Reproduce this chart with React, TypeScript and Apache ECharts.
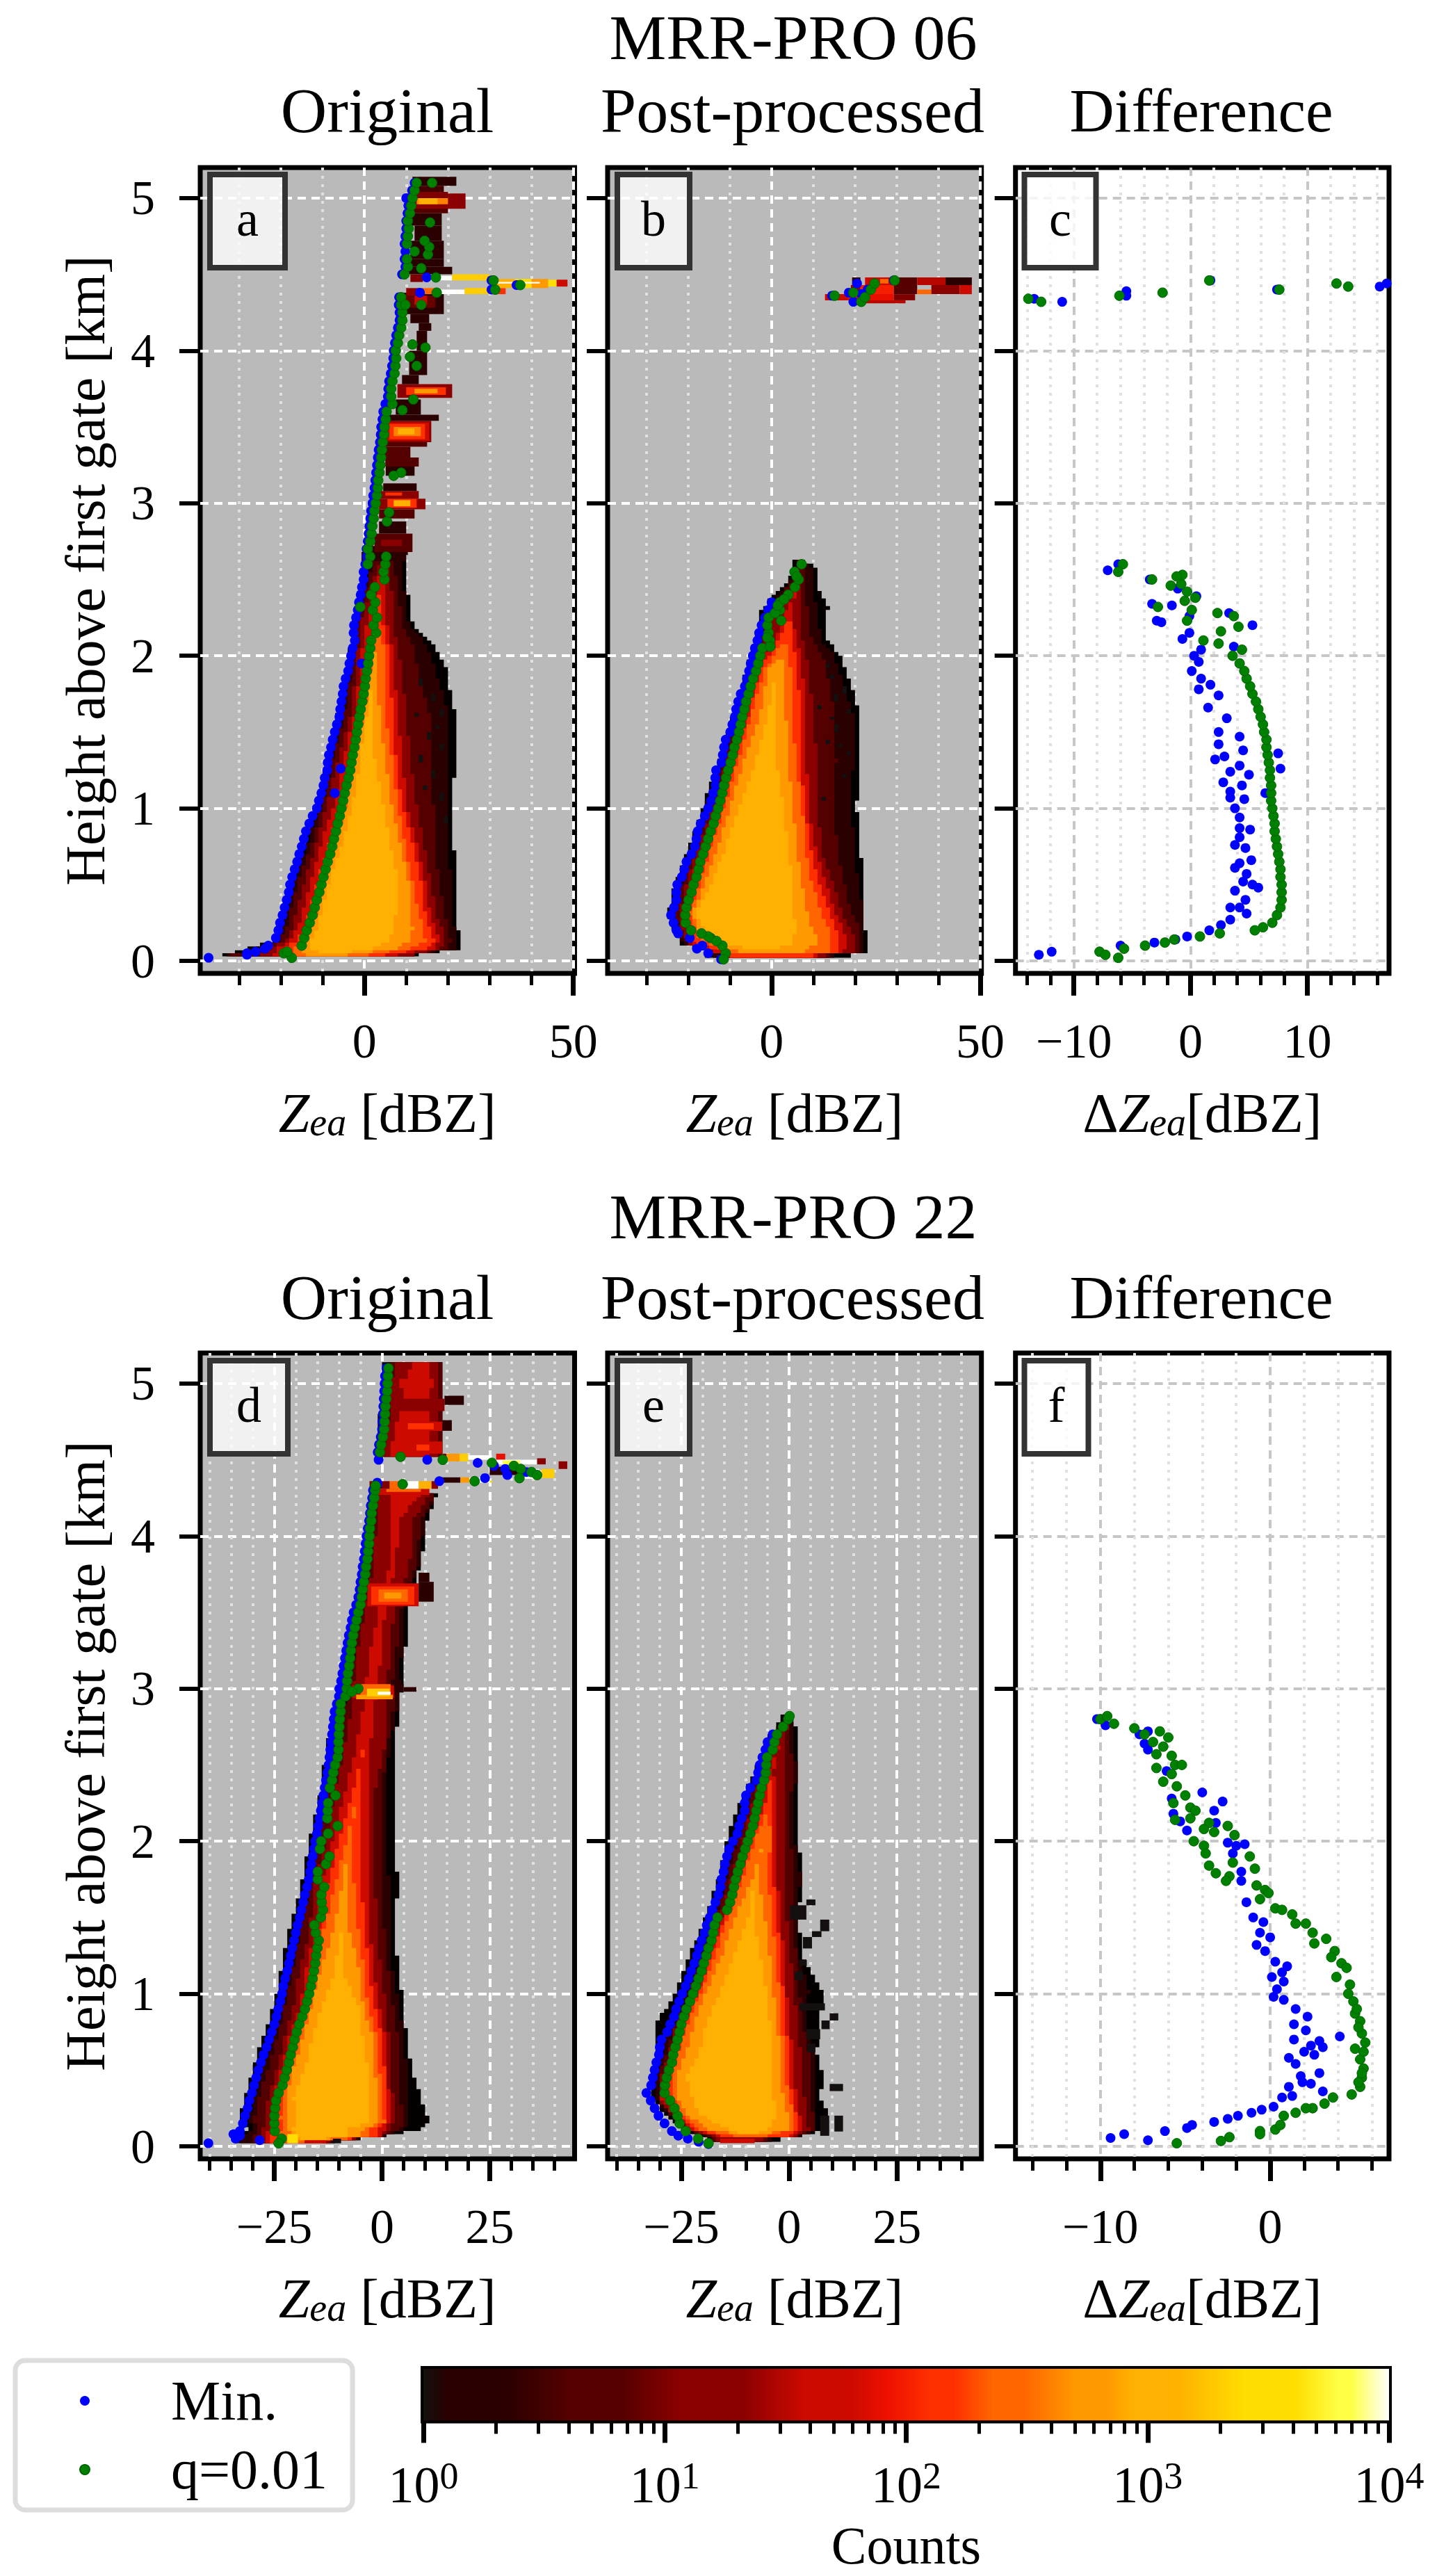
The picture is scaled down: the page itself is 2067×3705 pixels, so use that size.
import React, { useEffect, useRef } from "react";
import * as echarts from "echarts";

// ---- colour scale: [log10(count), colour]
const colorStops: [number, string][] = [
  [0, "#141010"], [0.1, "#2a0000"], [0.34, "#2a0000"], [0.6, "#550000"], [0.82, "#550000"],
  [1.06, "#8b0000"], [1.32, "#8b0000"], [1.58, "#cc0a00"], [1.77, "#cc0a00"], [1.92, "#ee1000"],
  [2.1, "#ff3000"], [2.2, "#ff3000"], [2.36, "#ff6600"], [2.49, "#ff6600"], [2.7, "#ff9900"],
  [2.83, "#ff9900"], [2.93, "#ffb000"], [3.12, "#ffb000"], [3.4, "#ffdd00"], [3.61, "#ffdd00"],
  [3.79, "#ffff44"], [3.84, "#ffff44"], [4, "#ffffff"],
];
const bandColors = ["#050000", "#2a0000", "#550000", "#8b0000", "#cc0a00", "#ff3000", "#ff6600", "#ff9900", "#ffb000"];

// ---- histogram outlines: [height, left edges per count level, right edges inner -> outer]
type Row = [number, number[], number[]];
const bodyA: Row[] = [
  [0.03, [-34.2, -33, -32, -25, -22, -20, -17, -14], [-4, 1, 5, 8, 11.5, 12, 12, 13]],
  [0.07, [-28, -26, -24.5, -23, -21, -19, -17.5, -15.5, -13], [2, 7.5, 11, 15, 16.5, 18, 20, 22, 23.2]],
  [0.12, [-22, -21, -20, -19, -18, -16.5, -15, -14, -13], [6, 11, 14.5, 16.5, 18, 19, 20.5, 22, 23.2]],
  [0.2, [-21, -19.8, -18.6, -17.5, -16, -14.5, -13.5, -12.6, -11.5], [7, 11.5, 14, 15.5, 17, 18.5, 20, 21.5, 22.2]],
  [0.3, [-20, -19, -17.8, -16.5, -15, -13.5, -12, -11.5, -10.5], [7.5, 10.5, 13, 14.5, 15.8, 17, 19, 21, 22.2]],
  [0.5, [-17.7, -17, -16, -14.5, -13, -11.5, -10.5, -10, -8.5], [8.3, 10.5, 11.6, 13.5, 14.5, 16, 18, 20.8, 22]],
  [0.7, [-15, -14.3, -13.2, -12.2, -11, -9.2, -8.2, -7.5, -6], [6.5, 9, 10, 12, 13, 14.5, 16.8, 20, 21.5]],
  [1.0, [-11.5, -11, -10, -9, -7.5, -6, -5, -4.5, -3], [4.5, 6.5, 8, 9, 10.2, 12.5, 16.5, 19.5, 21]],
  [1.3, [-9, -8.6, -7.6, -6.5, -5, -3.5, -3, -2.4, -1], [2.5, 5, 6.7, 7.6, 9, 11, 16, 20.3, 21.8]],
  [1.6, [-6.6, -5.8, -4.8, -3.5, -2.5, -1, -0.6, 0, 0.5], [1.8, 3.6, 5, 6.8, 8, 10, 15.5, 20.3, 21.8]],
  [1.9, [-4, -3.5, -3, -2, -1, 0.5, 0.9, 1.5], [3, 4.5, 6, 7, 8.8, 12.8, 16.8, 19.5]],
  [2.05, [-3.5, -3, -2.5, -1.5, -0.5, 1.2, 2, 2.8], [3.4, 4.5, 5.5, 6.5, 8, 11.5, 15, 17]],
  [2.2, [-3, -2.5, -2, -1, 0.5, 2.2], [4.3, 5.4, 6.8, 9, 10.5, 11.5]],
  [2.4, [-0.8, -0.3, 0, 1, 2.5], [4.5, 6.5, 8, 9.5, 10.4]],
  [2.62, [0.5, 1.5, 2.5, 4], [5, 7, 9, 10.5]],
];
const bodyB: Row[] = [
  [0.02, [-16.5, -14, -12, -11, -10.2, -9.9], [9.6, 10.7, 13.2, 14, 14.8, 19.3]],
  [0.05, [-16.5, -16, -15.4, -14.9, -13.8, -11.5, -9.9, -8.2], [7.9, 13.5, 15.7, 17.4, 20.1, 21.2, 21.8, 23.4]],
  [0.1, [-21.6, -21, -20.5, -20, -19, -18, -15.5, -14, -13], [5.1, 10.7, 14, 16.2, 18, 19.6, 21, 22.3, 23.4]],
  [0.15, [-22.7, -22.3, -21.8, -21, -20.5, -20, -18.5, -16, -14.5], [5.1, 10.7, 14, 15.7, 17.6, 19.6, 21.2, 22.3, 23.4]],
  [0.2, [-23.8, -23, -22.3, -21.6, -20.5, -19.3, -18.5, -17.9, -16.5], [6.2, 9.6, 13.5, 15.4, 17.3, 19, 21, 22.3, 22.3]],
  [0.3, [-24.9, -24, -23, -22, -21, -20.2, -19.6, -19, -18], [5.1, 8.5, 12, 14, 15.4, 16.8, 19, 22, 22.4]],
  [0.5, [-23.2, -22.5, -21.5, -20.5, -19.5, -18.2, -17.1, -16, -14.3], [5.1, 7.3, 9.6, 11.2, 12.9, 14.8, 17.3, 20.7, 22.4]],
  [0.7, [-20.4, -19.8, -19, -18, -17, -16, -14.9, -13.2, -11.5], [4, 6.2, 8.2, 9.6, 10.7, 12.1, 15.8, 20, 21.2]],
  [1.0, [-16.5, -16, -15.2, -14.2, -13.2, -12.1, -11.3, -9.9, -7.7], [2.9, 5.1, 7.3, 7.9, 8.7, 10.9, 15, 19, 20.4]],
  [1.3, [-12.7, -12.2, -11.5, -10.8, -9.8, -9.1, -8, -6.6, -3.8], [1.2, 4, 5.7, 7, 8.4, 10.7, 15.5, 19.6, 21.2]],
  [1.6, [-9.3, -8.8, -8.2, -7.5, -6.5, -5.4, -4.9, -2.7, -1], [0.7, 3.4, 5.1, 6.8, 8.2, 10.1, 15, 19.6, 21.2]],
  [1.9, [-6, -5.4, -4.8, -4, -3, -2.7, -1.6, -0.7], [2.9, 4.6, 6.2, 7.3, 8.7, 13, 16, 17.9]],
  [2.0, [-5.2, -4.6, -4, -3.2, -1.8, -0.4, 0.7], [4, 5.7, 6.8, 8.4, 12, 14.5, 16.2]],
  [2.1, [-3.8, -3.3, -2.6, -1.2, 0.9, 2], [4.6, 5.7, 7.3, 9.6, 11.8, 12.9]],
  [2.3, [-2.4, -1.5, -0.5, 1, 3.7], [5.1, 6.8, 8.5, 10.7, 13.5]],
  [2.45, [3, 3.5, 4, 5.6], [6.8, 8, 9.6, 10.7]],
  [2.55, [5, 5.5, 6], [8, 9.6, 10.7]],
  [2.63, [5.7], [7.3]],
];
const bodyD: Row[] = [
  [0.02, [-34, -33, -30, -28, -27, -26, -24], [-14, -13, -12.7, -12.5, -12, -11.5, -11]],
  [0.06, [-34, -33, -30, -28, -27, -26, -24, -21, -20], [-8, -5, -3, -1, -0.5, 0, 0.3, 0.5, 0.8]],
  [0.1, [-31.1, -30, -29, -28, -26.5, -25, -23.5, -22, -20.6], [-7.6, -4.4, -3.3, -1.1, 0.5, 1.6, 3.7, 5.3, 9.1]],
  [0.15, [-33.2, -31, -29.7, -27, -25, -24.1, -23.5, -21.6, -20], [-2.8, -0.6, 0.5, 1, 1.8, 2.6, 5.3, 6.4, 11]],
  [0.3, [-31.9, -30, -28.7, -26.5, -25.4, -24.9, -23.5, -22.4, -20.6], [-2.8, -1.1, -0.1, 1, 1.6, 2.6, 4.2, 5.9, 9.1]],
  [0.5, [-30, -28, -26.5, -24.3, -23.3, -22.2, -21.4, -20.6, -17.9], [-3.3, -1.7, -0.6, 0.5, 1.3, 1.8, 4.2, 5.9, 6.9]],
  [0.7, [-27.8, -26, -24.3, -22.7, -21.6, -20.8, -19.5, -18.4, -16.2], [-4.4, -2.2, -1.1, -0.1, 0.7, 1.6, 3.7, 4.8, 5.6]],
  [0.9, [-25.2, -24, -22.7, -20.6, -18.9, -18.1, -17.6, -16.5, -14.1], [-5.5, -4.4, -3.3, -1.7, -0.6, 1, 2.6, 4.2, 5.3]],
  [1.1, [-23.8, -22.4, -21, -19.5, -17.9, -16.8, -16, -14.6, -11.4], [-8.7, -4.9, -3.9, -2.8, -1.7, -0.1, 1.6, 2.6, 4]],
  [1.4, [-21.6, -20.4, -18.9, -16.8, -15.7, -14.6, -13.6, -11.4], [-7.6, -5.5, -3.9, -2.8, -1.1, 0.5, 1.6, 2.9]],
  [1.7, [-18.7, -17.5, -16.8, -15.7, -14.1, -12.7, -10.9, -9.2], [-8.2, -6.5, -4.9, -3.3, -1.7, -0.1, 1.6, 3.7]],
  [2.0, [-16.8, -16, -15.2, -13, -11.4, -9.8, -8.2], [-7.1, -4.9, -3.3, -1.7, -0.1, 1, 2.9]],
  [2.3, [-14.4, -13.7, -13, -10.9, -8.7, -6.8], [-4.9, -3.3, -1.7, -0.1, 1, 2.9]],
  [2.6, [-13, -12.2, -11.4, -8.7, -6], [-2.8, 0.5, 1.1, 1.6, 2.9]],
  [2.85, [-10.9, -9.8, -8.7, -7.1, -4.4], [-1.7, 0.5, 2.6, 3.5, 4]],
  [3.2, [-8, -7.2, -6.5, -6, -2.9], [-0.3, 1.8, 3.3, 4.5, 5.4]],
  [3.5, [-6, -5.3, -4.6, -3.9, -0.8], [0.7, 2.8, 4.3, 5.2, 5.9]],
  [3.8, [-3.9, -3.3, -2.6, -1.9, 1.8], [3.3, 6.4, 7.9, 8.5, 9]],
  [4.1, [-3.4, -2.8, -2, -1.3, 1.8], [3.8, 7.4, 9, 10, 10.5]],
  [4.28, [-2.9, -2.4, -1.8, -1.3, 1.8], [10, 11.5, 12.5, 12.8, 13]],
];
const bodyD2: Row[] = [
  [4.52, [-1.3, -0.8, -0.3, 0.2, 1.8], [11, 13, 13.6, 14, 14.1]],
  [4.8, [-0.5, 0, 0.8, 1.8, 4.3], [10.5, 13, 13.6, 14, 14.1]],
  [5.14, [0.2, 1, 2, 2.8, 6.9], [10.5, 12.6, 13.5, 14, 14.1]],
];
const bodyE: Row[] = [
  [0.03, [-18.7, -18.1, -17.6, -17], [-6.3, -4.6, -3.6, -1.9]],
  [0.06, [-21.4, -20.5, -19.5, -18.5, -17.5, -16, -13], [-4.6, -0.3, 0.8, 1.8, 2.4, 2.7, 3.2]],
  [0.1, [-24.6, -24.3, -24, -23.5, -23, -22.4, -20.8, -18.7, -14.3], [-4.6, 0.2, 1.3, 2.4, 2.9, 4.5, 6.1, 6.4, 9.1]],
  [0.2, [-28.9, -28.3, -27.8, -27.3, -26.8, -25.9, -25.1, -23.8, -20.8], [-3, -0.3, 0.8, 1.6, 2.4, 4, 5.6, 6.1, 9.1]],
  [0.3, [-32, -31, -30.5, -30.3, -29.7, -27.8, -26.7, -25.7, -22.4], [-3.6, -1.4, 0.2, 0.8, 1.8, 3.5, 5.1, 6.1, 7.2]],
  [0.45, [-32, -31, -30.5, -29.7, -28.9, -28.1, -27.3, -26.2, -24], [-3.6, -1.9, -0.9, 0, 1, 2.9, 5.1, 6.1, 8]],
  [0.6, [-30.8, -29.5, -28.5, -27.8, -27, -26.2, -25.7, -24, -20.8], [-4.1, -1.9, -0.9, 0, 0.8, 2.6, 4.5, 5.6, 6.4]],
  [0.8, [-30.8, -28, -26.5, -26.2, -24.9, -24, -23.5, -21.9, -19.2], [-4.4, -3, -1.9, -0.9, 0, 1.8, 2.9, 4, 7]],
  [1.0, [-26.2, -24.5, -23, -22.4, -21.6, -21.1, -20.5, -19.2, -16], [-5.2, -3.6, -2.2, -1.4, -0.6, 1.3, 2.4, 4.5, 7.8]],
  [1.25, [-23, -21.5, -20.5, -19.7, -18.7, -17.9, -17, -15.4, -12.7], [-6.8, -4.6, -3.3, -2.2, -1.4, 0.2, 1.6, 2.1, 2.9]],
  [1.5, [-19.2, -18, -17, -16, -15.2, -14.6, -14.1, -12.5, -9.5], [-8.4, -5.7, -3.8, -2.8, -1.7, -0.6, 0.8, 1.8, 2.1]],
  [1.75, [-16.5, -15.5, -14.5, -13.5, -12.2, -11.4, -10.6, -8.4], [-7.3, -5.2, -3.8, -3, -0.9, 1.3, 2.7, 3.2]],
  [2.0, [-14.3, -13, -12, -10.6, -9.8, -9, -7.9], [-4.1, -3.6, -2.8, -1.4, 0.2, 1.3, 2.1]],
  [2.2, [-12.2, -11, -10, -9, -7.9, -5.7], [-4.4, -3, -1.1, 0.2, 1.3, 2.1]],
  [2.45, [-7.9, -7.2, -6.5, -6.2, -4.6], [-3.6, -0.9, 0.8, 1.6, 2.1]],
  [2.65, [-5.2, -4.5, -3.8, -3], [-0.9, 0.2, 1.3, 2.1]],
  [2.83, [-0.9], [1]],
];

// ---- separate histogram blocks: [h0, h1, x0, x1, log10(count)]
type Patch = [number, number, number, number, number];
const patchesA: Patch[] = [
  [2.62, 2.68, -0.7, 10, 0.3], [2.66, 2.72, 1.4, 10.4, 0.3], [2.68, 2.8, 2.4, 11.5, 0.8], [2.72, 2.76, 4, 9, 1.2], [2.8, 2.88, 3.5, 10, 0.2],
  [2.9, 2.96, 3.5, 12, 0.6], [2.96, 3.03, 3.5, 14.6, 1.2], [2.97, 3.03, 5.5, 12.5, 2.2], [2.98, 3.02, 7, 11, 3], [3.03, 3.08, 3, 13, 1.2], [3.05, 3.07, 5, 9, 2.2], [3.08, 3.13, 4.5, 12.5, 0.2],
  [3.18, 3.24, 5.1, 12, 0.2], [3.24, 3.3, 5, 13, 0.7], [3.3, 3.37, 4.8, 11, 0.7], [3.37, 3.42, 5, 15, 0.7],
  [3.4, 3.54, 4.5, 16, 1.2], [3.41, 3.53, 5.5, 15.5, 1.7], [3.42, 3.52, 6, 14.5, 2.2], [3.44, 3.5, 7, 13.5, 2.6], [3.45, 3.49, 8, 12, 3],
  [3.54, 3.58, 5, 17.8, 0.1], [3.58, 3.68, 7.5, 13.5, 0.3],
  [3.69, 3.78, 7.9, 21, 1.2], [3.71, 3.76, 10, 19.5, 2.2], [3.72, 3.75, 12, 17.5, 2.7], [3.78, 3.84, 9, 13, 0.2],
  [3.84, 4, 10.7, 15, 0.1], [4, 4.13, 12.5, 15, 0.1], [4.13, 4.18, 13, 16, 0.1], [4.18, 4.24, 11, 15.5, 0.1],
  [4.24, 4.38, 7.7, 19, 0.2], [4.28, 4.36, 9, 17, 0.9], [4.3, 4.36, 12, 15, 1.7],
  [4.36, 4.41, 10, 13.5, 1.2], [4.37, 4.41, 13, 17, 2.4], [4.37, 4.4, 17, 24, 4], [4.37, 4.41, 24, 30, 3.3], [4.37, 4.41, 30, 33.8, 2.1],
  [4.45, 4.5, 11, 14, 1], [4.46, 4.49, 14, 21, 4], [4.46, 4.5, 21, 30, 3.3],
  [4.41, 4.47, 30, 36, 3], [4.41, 4.47, 36, 40, 3.4], [4.41, 4.47, 40, 44, 2.8], [4.42, 4.465, 44, 46, 3.5], [4.42, 4.465, 46, 48.6, 1.6], [4.44, 4.45, 30, 42, 4],
  [4.5, 4.55, 9.7, 21, 0.3], [4.55, 4.6, 10, 19, 0.1], [4.6, 4.72, 11, 19, 0.15], [4.72, 4.82, 12, 18.5, 0.1], [4.82, 4.9, 11, 18.5, 0.1], [4.9, 4.95, 10, 20, 0.8],
  [4.93, 5.03, 10, 24.2, 1.2], [4.96, 5.01, 12.5, 20, 2.6], [4.96, 5, 13, 17.5, 3.05], [5, 5.04, 12, 20, 1], [5.04, 5.08, 11.5, 19, 0.5], [5.08, 5.14, 11.5, 22, 0.1],
  [1.8, 1.85, 13, 14, 0], [1.6, 1.625, 12, 13, 0], [1.45, 1.5, 15, 16, 0], [1.3, 1.35, 13, 14, 0], [1.2, 1.25, 16, 17, 0], [1.05, 1.1, 18, 19, 0], [1.7, 1.75, 16, 17, 0], [0.9, 0.95, 19, 20, 0],
  [1.52, 1.545, 17, 18, 0], [1.38, 1.425, 18, 19, 0], [1.12, 1.15, 14, 15, 0], [1.6, 1.65, 18, 19, 0],
];
const patchesB: Patch[] = [
  [4.43, 4.48, 19.3, 21.3, 0.1], [4.43, 4.48, 22.4, 29.3, 1.7], [4.44, 4.47, 26, 28, 2.4], [4.43, 4.48, 29.3, 34.9, 0.7], [4.43, 4.48, 34.9, 41.7, 1.5], [4.43, 4.48, 41.7, 48, 0.3],
  [4.37, 4.43, 19, 21.3, 1.2], [4.37, 4.43, 21.3, 29.3, 2], [4.37, 4.43, 29.3, 34.9, 0.8], [4.37, 4.4, 34.9, 38.3, 2.5], [4.37, 4.43, 38.3, 45.1, 1.2], [4.37, 4.43, 45.1, 48, 1.7],
  [4.33, 4.37, 12.8, 18.5, 1.7], [4.33, 4.37, 18.5, 29.3, 1.9], [4.33, 4.37, 29.3, 34.4, 1], [4.31, 4.33, 18.5, 32.1, 1.5],
  [1.92, 1.95, 13, 14, 0], [1.85, 1.875, 14, 15, 0], [1.7, 1.75, 15, 16, 0], [1.65, 1.675, 11, 12, 0], [1.58, 1.6, 14, 15, 0], [1.5, 1.55, 15, 16, 0], [1.42, 1.45, 13, 14, 0], [1.4, 1.425, 16, 17, 0], [1.05, 1.075, 12, 13, 0],
  [1.75, 1.8, 17, 18, 0], [1.62, 1.65, 18, 19, 0], [1.35, 1.375, 18, 19, 0], [1.2, 1.225, 17, 18, 0],
];
const patchesD: Patch[] = [
  [3.54, 3.69, -3.4, 8.5, 1.7], [3.55, 3.67, -2.5, 7.5, 2.15], [3.57, 3.65, -0.8, 6, 2.45], [3.59, 3.63, 0.5, 4.5, 2.75], [3.57, 3.7, 8.5, 12, 0.1], [3.7, 3.76, 8.5, 11, 0.1],
  [2.94, 3.02, -7, 2.8, 1.7], [2.93, 3.03, -5, 2, 2.45], [2.93, 2.96, -6, 2.5, 2.7], [2.95, 3, -3.5, 1.8, 3.3], [2.96, 2.98, -1, 2, 4], [2.98, 3.03, 2.8, 5, 0.1], [2.98, 3.01, 5, 8, 0.2], [3.03, 3.06, 2, 4.5, 0.1],
  [4.27, 4.31, -2.5, 11, 1.6], [4.29, 4.31, 1, 9, 2.4],
  [4.31, 4.36, -2.9, 1.8, 1], [4.31, 4.36, 1.8, 5, 2.4], [4.31, 4.36, 5, 8.5, 4], [4.31, 4.36, 8.5, 11.5, 3.1], [4.31, 4.36, 11.5, 13, 1.2],
  [4.35, 4.385, 13.6, 18.2, 0.1], [4.35, 4.385, 18.2, 20.3, 2.7], [4.35, 4.385, 20.3, 25, 4], [4.35, 4.365, 25, 25.5, 3.4],
  [4.49, 4.54, 14.1, 15, 1], [4.49, 4.54, 15, 18, 2.7], [4.49, 4.54, 18, 20, 3.3], [4.5, 4.53, 20, 25.5, 4], [4.5, 4.54, 26.5, 28.6, 1.9],
  [4.47, 4.5, 25.5, 36, 4], [4.47, 4.51, 36, 38, 1.3], [4.44, 4.49, 41, 43, 1.2], [4.47, 4.495, 28, 32, 3.8],
  [4.4, 4.455, 25, 32, 0.1], [4.39, 4.43, 32, 37, 4], [4.38, 4.44, 37, 40, 3.3], [4.375, 4.44, 33, 36.5, 4],
  [4.69, 4.75, 3, 14, 1.75], [4.7, 4.74, 6, 12, 2.15], [4.69, 4.76, 14, 16.2, 0.1],
  [4.54, 4.62, 2, 14, 1.6], [4.56, 4.6, 8, 11, 2.15], [4.82, 4.9, 2, 14.5, 1.3], [4.86, 4.92, 14.5, 19, 0.1], [4.97, 5.03, 4, 12, 1.6],
  [0.02, 0.08, -22, -19.5, 3.5], [0.02, 0.05, -11.4, -9.5, 0], [0.02, 0.04, -18, -13, 1.7],
];
const patchesE: Patch[] = [
  [0.02, 0.05, -16, -8, 1.7],
  [1.58, 1.618, 4, 6.1, 0], [1.486, 1.58, 0.2, 4, 0], [1.41, 1.486, 7.2, 9.3, 0], [1.372, 1.41, 5.3, 7.5, 0], [1.297, 1.372, 3.2, 5.3, 0],
  [1.183, 1.221, 2.4, 4.1, 0], [1.089, 1.146, 1.3, 3.2, 0], [0.891, 0.938, 2.4, 8.3, 0], [0.825, 0.872, 9.4, 11.4, 0], [0.768, 0.825, 7.5, 9.4, 0],
  [0.702, 0.768, 4, 7.2, 0], [0.617, 0.673, 4.2, 6.1, 0], [0.362, 0.409, 9.4, 12.5, 0], [0.097, 0.201, 10.5, 12.5, 0], [0.069, 0.201, 7.2, 9.3, 0],
];

// ---- scatter points. Lists indexed by gate: 0.05 km, 0.10 km, ...
const gateStep = 0.05;
const aQ = [-19.3, -15, -14.4, -13.8, -13.1, -12.4, -11.9, -11.4, -10.8, -10.3, -9.8, -9.3, -8.8, -8.2, -7.7, -7.3, -6.8, -6.4, -5.9, -5.5, -5.1, -4.7, -4.3, -3.8, -3.4, -3.1, -2.8, -2.4, -2.1, -1.8, -1.5, -1.2, -0.9, -0.5, -0.2, 0.1, 0.3, 0.6, 0.9, 1.1, 1.4, 1.6, 2.8, 2.2, 3, 2, 2.6, 1.6, 2.5, 4.8, 4.6, 5, 1.4, 0.8, 1.4, 1.7, 1.9, 2.2, 2.4, 2.7, 3, 3.2, 3.3, 3.6, 3.8, 4, 4.2, 4.4, 4.7, 4.8, 5.1, 5.3, 6.7, 6.4, 6.4, 6.7, 7.2, 7.4, 7.6, 7.5, 8, 8.3, 8.8, 9.1, 9.1, 8.8, 8.8, null, null, 9.6, 10.4, 10.2, 12, 10.2, 10.4, 10.6, 10.4, 10.9, 11.2, 11.5, 12, 12.5];
const aQExtra = [[5.4, 2.88], [5.9, 2.94], [8.8, 3.2], [7, 3.18], [9.1, 3.61], [11.7, 3.68], [12.5, 3.9], [10.9, 3.96], [11.5, 4.04], [14.6, 4.02], [9.8, 4.3], [13.6, 4.3], [17.3, 4.38], [31.3, 4.4], [30.9, 4.46], [37.3, 4.43], [17.1, 4.48], [13.6, 4.54], [15.2, 4.63], [15.5, 4.68], [14.4, 4.72], [15.7, 4.84], [16.2, 5.1], [-17.4, 0.02], [-18.5, 0.06], [5.2, 2.65], [-1, 2.32], [0.8, 2.6]];
const aMin = [-28.1, -23, -21.2, -20.6, -20.2, -19.6, -19.1, -18.6, -18.1, -17.8, -17.3, -16.7, -16.1, -15.6, -15, -14.5, -14, -13.2, -12.4, -11.4, -10.9, -10.3, -9.8, -9.5, -8.9, -8.8, -8.5, -8, -7.6, -7.1, -6.6, -6, -5.8, -5.5, -5.2, -5, -4.5, -3.9, -3.6, -3.2, -2.8, -2.3, -2.6, -2.5, -2, -1.6, -1.3, -0.9, -0.6, -0.2, -0.2, 0.2, 0.6, 0.5, 0.8, 1, 1.2, 1.4, 1.6, 1.9, 2.1, 2.4, 2.6, 2.8, 3, 3.2, 3.4, 3.7, 3.9, 4, 4.3, 4.5, 5, 5.6, 5.7, 5.9, 6.3, 6.6, 6.9, 7, 7.3, 7.6, 8, 8.4, 8.4, 8.2, 8.3, null, null, 9, 9.8, 9.6, 9.8, 9.6, 9.8, 10, 10, 10.3, 10.5, 10, 11.4, 12];
const aMinExtra = [[-37.3, 0.02], [-26, 0.06], [-28.1, 0.04], [-23.8, 0.08], [-7.1, 1.1], [-5.7, 1.26], [-0.7, 1.95], [14.9, 4.48], [13.3, 4.38], [30.4, 4.46], [30.4, 4.4], [36.4, 4.43]];
const bQ = [-11, -11.8, -14.6, -19.3, -20.6, -20.7, -20.4, -19.9, -19.2, -18.7, -18, -17.5, -17.1, -16.4, -15.8, -15.2, -14.6, -13.9, -13.4, -12.8, -12.3, -11.8, -11.4, -10.9, -10.4, -9.8, -9.3, -8.9, -8.3, -7.8, -7.4, -7, -6.5, -6.1, -5.5, -5, -4.4, -3.7, -3.2, -2.7, -2.2, -0.4, -0.7, -1, -0.7, 2, 2, 4, 5.6, 6.5, 5.5, 7.2];
const bQExtra = [[-11.5, 0.01], [-13.2, 0.13], [-15.2, 0.16], [-16.8, 0.18], [-0.3, 2.06], [2.3, 2.23], [0.8, 2.28], [6, 2.52], [1.5, 2.33], [3, 2.37], [-1, 2.12], [15.1, 4.36], [19.6, 4.38], [21.5, 4.32], [22.4, 4.35], [23.8, 4.4], [24.7, 4.44], [29.5, 4.46]];
const bMin = [-15.2, -16.6, -19.6, -22.8, -23.5, -24.1, -23.4, -22.8, -22.8, -22.6, -21.5, -20.9, -20.4, -19.2, -18.4, -18, -17.7, -17, -16, -15.2, -14.5, -14, -13.4, -13.5, -13.3, -12, -11.7, -11.4, -11, -9.9, -9.4, -8.8, -8.5, -8, -7.4, -6.4, -5.9, -5.4, -5, -4.5, -4, -3.4, -3, -2.4, -1.6, -0.8, 0];
const bMinExtra = [[-12.1, 0.01], [-17.9, 0.08], [-22.4, 0.18], [14.5, 4.36], [18.5, 4.38], [19.6, 4.32], [20.5, 4.44], [21.5, 4.37], [23, 4.4], [29.3, 4.46]];
const cQ = [[-7.8, 0.06], [-7.3, 0.04], [-6.2, 0.02], [-5.7, 0.08], [-3.9, 0.1], [-2.2, 0.12], [-1.4, 0.14], [0.8, 0.16], [2.5, 0.18], [5.5, 0.2], [6.2, 0.22], [7, 0.25], [7.4, 0.3], [7.7, 0.35], [7.8, 0.4], [7.8, 0.45], [7.8, 0.5], [7.7, 0.55], [7.7, 0.6], [7.6, 0.65], [7.5, 0.7], [7.4, 0.75], [7.3, 0.8], [7.2, 0.85], [7.2, 0.9], [7.1, 0.95], [7, 1], [6.9, 1.05], [6.9, 1.1], [6.9, 1.15], [6.8, 1.2], [6.8, 1.25], [6.7, 1.3], [6.6, 1.35], [6.5, 1.4], [6.5, 1.45], [6.3, 1.5], [6.2, 1.55], [6, 1.6], [5.8, 1.65], [5.6, 1.7], [5.3, 1.75], [5.1, 1.8], [4.8, 1.85], [4.6, 1.9], [4.2, 1.95], [3.6, 2], [4.4, 2.04], [2.4, 2.08], [2.6, 2.16], [1.1, 2.1], [4.1, 2.19], [3.7, 2.26], [2.3, 2.28], [-0.3, 2.23], [0.1, 2.3], [-0.5, 2.36], [-2.8, 2.32], [0.4, 2.38], [-0.3, 2.42], [-0.8, 2.47], [-1.7, 2.46], [-0.7, 2.53], [-1.2, 2.52], [-3.3, 2.5], [-5.8, 2.6], [-6.2, 2.55], [-13.9, 4.34], [-12.8, 4.32], [-6.1, 4.36], [-2.4, 4.38], [1.6, 4.46], [7.6, 4.4], [12.5, 4.44], [13.5, 4.42]];
const cMin = [[-13, 0.04], [-11.9, 0.06], [-6, 0.1], [-1.3, 0.14], [-3.1, 0.12], [-0.3, 0.16], [1.6, 0.2], [2.6, 0.235], [3.4, 0.27], [3.4, 0.35], [4.8, 0.31], [4.2, 0.35], [4.7, 0.4], [3.8, 0.46], [5.8, 0.48], [5.3, 0.5], [4.5, 0.52], [4.8, 0.57], [3.8, 0.61], [5.2, 0.66], [4.2, 0.64], [4.7, 0.74], [3.8, 0.76], [4.2, 0.81], [5.1, 0.86], [4.2, 0.87], [4.2, 0.94], [3.8, 1], [4.6, 1.06], [3.4, 1.07], [4.4, 1.15], [3.4, 1.11], [6.4, 1.1], [2.8, 1.17], [5, 1.22], [3.4, 1.24], [4.2, 1.28], [2.1, 1.32], [2.9, 1.34], [7.7, 1.26], [7.5, 1.36], [4.5, 1.38], [2.4, 1.42], [4.2, 1.47], [2.4, 1.5], [3.1, 1.59], [1.5, 1.66], [2.4, 1.74], [0.7, 1.78], [1.7, 1.81], [0.9, 1.85], [0.1, 1.9], [0.7, 1.96], [0.3, 2], [0.9, 2.04], [-0.7, 2.11], [-0.1, 2.15], [-2.9, 2.23], [-2.5, 2.22], [-3.3, 2.34], [-1.6, 2.33], [3.3, 2.28], [5.3, 2.2], [3.7, 2.06], [-3.5, 2.5], [-1.1, 2.44], [0.5, 2.39], [-0.1, 2.26], [-7.1, 2.56], [-6.2, 2.6], [-13.4, 4.34], [-11, 4.32], [-5.5, 4.39], [-5.5, 4.36], [1.7, 4.46], [7.4, 4.4], [16.2, 4.42], [16.8, 4.44]];
const dQ = [-23.3, -24.9, -25, -25, -24.8, -24.6, -24, -23.1, -22.6, -22.1, -21.6, -21.2, -20.7, -20.3, -19.8, -19.2, -18.5, -17.9, -17.4, -16.9, -16.5, -16.1, -15.8, -15.5, -15.3, -15, -14.7, -15.4, -15.7, -14.2, -13.7, -14, -14.1, -13.4, -14.9, -14.9, -13, -12.2, -14.4, -14.1, -12.5, -10.3, -12.7, -12.6, -12.5, -10.8, -12.1, -11.6, -11.3, -10.9, -10.3, -10.1, -10.1, -10, -9.9, -9.8, -9.6, -9.6, -8.5, -8.2, -8.1, -7.9, -7.6, -7.4, -7.2, -7, -6.7, -6.3, -5.9, -5.5, -5, -4.7, -4.5, -4.2, -3.9, -3.7, -3.4, -3.2, -3, -2.9, -2.8, -2.5, -2.4, -2.1, -1.8, -1.6, null, null, null, null, -0.5, -0.2, 0.2, 0.5, 0.6, 0.7, 0.8, 1, 1.2, 1.3, 1.4, 1.5];
const dQExtra = [[-24, 0.02], [-5.5, 3], [-7, 2.98], [4.8, 4.34], [4.3, 4.52], [14.1, 4.5], [21.5, 4.36], [25.5, 4.48], [30.6, 4.46], [32.2, 4.44], [31.9, 4.38], [34.7, 4.42], [36, 4.4], [-1.5, 4.33]];
const dMin = [-34, -33, -32.3, -31.8, -31.2, -30.8, -30.2, -29.7, -29.2, -28.7, -28.1, -27.5, -26.8, -26.2, -25.6, -25, -24.5, -24.1, -23.6, -23.2, -22.9, -22.5, -22, -21.6, -21.2, -20.8, -20.4, -20, -19.6, -19.1, -18.7, -18.3, -17.9, -17.4, -17, -16.7, -16.4, -16.1, -15.8, -15.5, -15.1, -14.8, -14.5, -14.2, -13.9, -13.6, -13.3, -13, -12.7, -12.4, -12.2, -12, -11.8, -11.6, -11.4, -11.2, -11, -10.5, -10, -9.9, -9.5, -9.2, -8.9, -8.6, -8.3, -8, -7.7, -7.3, -7, -6.6, -6, -5.5, -5.2, -5, -4.7, -4.5, -4.2, -4, -3.8, -3.6, -3.3, -3, -2.8, -2.6, -2.3, -2.1, -1.1, null, null, -0.8, -1, -0.7, -0.3, 0, 0.1, 0.2, 0.3, 0.4, 0.5, 0.6, 0.7, 1];
const dMinExtra = [[-40.3, 0.02], [-34.5, 0.08], [-33, 0.07], [-28.4, 0.04], [10.5, 4.5], [22.2, 4.48], [26, 4.46], [28.6, 4.44], [29.1, 4.4], [33.5, 4.42], [23.9, 4.38], [13.3, 4.36], [-1.1, 4.34]];
const eQ = [-21.1, -24, -25.4, -25.9, -26.6, -27.6, -28.9, -28.8, -28.4, -27.9, -27.2, -26.9, -26.4, -25.9, -25.4, -25, -24.4, -23.8, -23, -22.3, -21.6, -21, -20.3, -19.8, -19.2, -18.7, -18, -17.6, -17.3, -16.6, -14.4, -13.7, -13.2, -12.8, -12.4, -11.9, -11.3, -10.8, -10.2, -9.6, -9, -8.4, -8, -7.6, -7.2, -6.8, -6.4, -5.8, -5.4, -5.3, -5.1, -3.8, -3.4, -2.8, -1.4, -0.2];
const eQExtra = [[-18.7, 0.02], [0.1, 2.82]];
const eMin = [-23.5, -27.2, -28.9, -30.3, -31.2, -32.1, -33.1, -32, -31.6, -31.2, -30.8, -30.2, -30, -29.6, -28.3, -27.6, -26.7, -26.2, -25.5, -24.8, -24, -23.3, -22.7, -22, -21.4, -20.9, -20.3, -19.6, -19.1, -18.4, -17.8, -17.1, -16.4, -15.9, -15.7, -15.2, -14.9, -14.4, -13.9, -13, -12, -11.6, -11, -10.3, -10.3, -10, -9, -7.6, -7.2, -6.8, -6.2, -5.5, -5, -3.8];
const eMinExtra = [[-18.7, 0.015], [-21, 0.03], [-25.7, 0.07]];
const fQ = [[-10, 2.8], [-9.6, 2.82], [-9.2, 2.77], [-8, 2.74], [-7.4, 2.7], [-6.5, 2.72], [-6, 2.68], [-6.9, 2.65], [-6.3, 2.62], [-6.7, 2.57], [-5.8, 2.56], [-5.6, 2.5], [-5.2, 2.5], [-6.7, 2.48], [-5.8, 2.44], [-6.3, 2.39], [-5.5, 2.36], [-5, 2.3], [-5.7, 2.25], [-4.7, 2.22], [-4.4, 2.2], [-4.7, 2.15], [-5.6, 2.14], [-3.6, 2.12], [-3.9, 2.08], [-3.3, 2.06], [-2.5, 2.1], [-4.5, 2], [-3.9, 1.97], [-3.8, 1.92], [-2.1, 2.04], [-1.2, 1.9], [-2.2, 1.86], [-3.6, 1.84], [-0.9, 1.82], [-3.2, 1.79], [-2.4, 1.77], [-2.6, 1.74], [-0.8, 1.71], [-0.3, 1.68], [-0.1, 1.66], [-0.6, 1.62], [0.3, 1.56], [0.7, 1.55], [1.3, 1.52], [1.5, 1.46], [2.1, 1.46], [2.5, 1.4], [2.6, 1.33], [3.3, 1.36], [3.8, 1.28], [3.6, 1.24], [4.2, 1.2], [4.5, 1.17], [3.9, 1.11], [4.7, 1.06], [4.6, 1], [4.9, 0.95], [5, 0.87], [5.3, 0.82], [5.4, 0.74], [5.6, 0.68], [5, 0.64], [5.3, 0.57], [5.5, 0.51], [5.4, 0.45], [5.3, 0.39], [4.8, 0.34], [3.7, 0.32], [3.2, 0.28], [2.5, 0.25], [2.1, 0.25], [1.5, 0.22], [0.8, 0.2], [0.3, 0.11], [0.6, 0.14], [-0.6, 0.1], [-0.6, 0.08], [-2.4, 0.06], [-2.9, 0.035], [-5.5, 0.02], [5.2, 0.78], [5.1, 0.9], [5.5, 0.62], [5.4, 0.48], [5.2, 0.42]];
const fMin = [[-10.2, 2.8], [-9.7, 2.76], [-7.7, 2.7], [-7.2, 2.72], [-7.4, 2.64], [-7.2, 2.6], [-6.1, 2.46], [-5.8, 2.28], [-5.7, 2.18], [-5.3, 2.13], [-4.9, 2.07], [-4, 2.32], [-2.8, 2.26], [-3.3, 2.2], [-3.2, 2.12], [-2.5, 1.99], [-1.5, 1.98], [-2.2, 1.92], [-2, 1.97], [-1.7, 1.8], [-1.7, 1.74], [-1.4, 1.6], [-1, 1.5], [-0.4, 1.47], [-0.6, 1.4], [0, 1.37], [-0.8, 1.32], [-0.3, 1.28], [0.3, 1.21], [1, 1.18], [0.7, 1.14], [0.1, 1.11], [0.8, 1.08], [0.4, 1.03], [0.2, 0.98], [0.8, 0.96], [1.5, 0.9], [2.2, 0.85], [1.4, 0.8], [2.1, 0.76], [1.4, 0.7], [2.4, 0.66], [2.9, 0.69], [3.1, 0.65], [2, 0.62], [2.6, 0.6], [4.1, 0.72], [1.1, 0.58], [1.5, 0.54], [1.8, 0.46], [2.9, 0.48], [1.9, 0.42], [2.4, 0.41], [3.1, 0.36], [1.1, 0.39], [1.3, 0.33], [0.7, 0.32], [0.2, 0.26], [-0.5, 0.24], [-1.1, 0.22], [-1.9, 0.2], [-2.5, 0.18], [-3.3, 0.16], [-4.6, 0.14], [-4.9, 0.12], [-6.2, 0.1], [-7.2, 0.04], [-8.6, 0.08], [-9.4, 0.055]];

// ---- axes, labels
const panelXLimits = [[-39.3, 50.3], [-39.3, 50.3], [-15, 17], [-42.2, 44.7], [-42.1, 44.6], [-15, 7]];
const panelMajor = [[0, 50], [0, 50], [-10, 0, 10], [-25, 0, 25], [-25, 0, 25], [-10, 0]];
const panelMinor = [
  [-30, -20, -10, 10, 20, 30, 40], [-30, -20, -10, 10, 20, 30, 40],
  [-14, -12, -8, -6, -4, -2, 2, 4, 6, 8, 12, 14, 16],
  [-40, -35, -30, -20, -15, -10, -5, 5, 10, 15, 20, 30, 35, 40],
  [-40, -35, -30, -20, -15, -10, -5, 5, 10, 15, 20, 30, 35, 40],
  [-14, -12, -8, -6, -4, -2, 2, 4, 6],
];
const heightTicks = [0, 1, 2, 3, 4, 5];
const panelLetters = ["a", "b", "c", "d", "e", "f"];
const colTitles = ["Original", "Post-processed", "Difference"];
const rowTitles = ["MRR-PRO 06", "MRR-PRO 22"];
const decades = [0, 1, 2, 3, 4];

// ---- page geometry
const W = 2067, H = 3705;
const colX = [[288, 826.5], [874, 1411.7], [1460.7, 1998]];
const rowY = [[241, 1400], [1946, 3105]];
const boxes = [[298, 116], [884, 112], [1469.5, 111], [298, 120], [884, 112], [1469.5, 100]];
const FONT = "Liberation Serif";

const gridded = (xs: (number | null)[], extra: number[][]) => [
  ...xs.map((x, i) => [x, +((i + 1) * gateStep).toFixed(2)]).filter((p) => p[0] !== null),
  ...extra,
];

const polygonsOf = (rows: Row[]) => {
  const polys: { pts: number[][]; color: string }[] = [];
  const edgeAt = (r: Row, k: number, right: boolean) => {
    const n = r[1].length;
    if (k < n) return right ? r[2][n - 1 - k] : r[1][k];
    return (r[1][n - 1] + r[2][0]) / 2;
  };
  bandColors.forEach((color, k) => {
    const left: number[][] = [], right: number[][] = [];
    for (let i = 0; i < rows.length - 1; i++) {
      const a = rows[i], b = rows[i + 1];
      const steps = Math.max(1, Math.round((b[0] - a[0]) / 0.025));
      for (let s = 0; s < steps; s++) {
        const t = s / steps, h0 = a[0] + (b[0] - a[0]) * t, h1 = a[0] + (b[0] - a[0]) * (s + 1) / steps;
        const lx = Math.round(edgeAt(a, k, false) * (1 - t) + edgeAt(b, k, false) * t);
        const rx = Math.round(edgeAt(a, k, true) * (1 - t) + edgeAt(b, k, true) * t);
        left.push([Math.min(lx, rx), h0], [Math.min(lx, rx), h1]);
        right.push([Math.max(lx, rx), h0], [Math.max(lx, rx), h1]);
      }
    }
    polys.push({ pts: [...left, ...right.reverse()], color });
  });
  return polys;
};

const hex = (s: string) => [1, 3, 5].map((i) => parseInt(s.slice(i, i + 2), 16));
const colorOf = (v: number) => {
  for (let i = 0; i < colorStops.length - 1; i++) {
    const [a, ca] = colorStops[i], [b, cb] = colorStops[i + 1];
    if (v <= b) {
      const t = Math.max(0, (v - a) / (b - a)), A = hex(ca), B = hex(cb);
      return `rgb(${A.map((c, j) => Math.round(c + (B[j] - c) * t)).join(",")})`;
    }
  }
  return "#ffffff";
};

const panels = [
  { bodies: [bodyA], patches: patchesA, min: gridded(aMin, aMinExtra), q: gridded(aQ, aQExtra) },
  { bodies: [bodyB], patches: patchesB, min: gridded(bMin, bMinExtra), q: gridded(bQ, bQExtra) },
  { bodies: [], patches: [] as Patch[], min: cMin, q: cQ },
  { bodies: [bodyD, bodyD2], patches: patchesD, min: gridded(dMin, dMinExtra), q: gridded(dQ, dQExtra) },
  { bodies: [bodyE], patches: patchesE, min: gridded(eMin, eMinExtra), q: gridded(eQ, eQExtra) },
  { bodies: [], patches: [] as Patch[], min: fMin, q: fQ },
];

const nameRich = {
  z: { fontFamily: FONT, fontStyle: "italic", fontSize: 80, color: "#000" },
  s: { fontFamily: FONT, fontStyle: "italic", fontSize: 56, color: "#000", padding: [26, 0, 0, 0] },
  n: { fontFamily: FONT, fontSize: 80, color: "#000" },
};

function buildOption() {
  const grid: any[] = [], xAxis: any[] = [], yAxis: any[] = [], series: any[] = [], graphic: any[] = [];
  panels.forEach((p, i) => {
    const col = i % 3, row = Math.floor(i / 3);
    const [x0, x1] = colX[col], [y0, y1] = rowY[row];
    const gray = col < 2;
    grid.push({
      left: x0, top: y0, width: x1 - x0, height: y1 - y0, show: true,
      backgroundColor: gray ? "#bababa" : "#ffffff", borderColor: "#000", borderWidth: 7,
    });
    const common = { type: "value", gridIndex: i, min: panelXLimits[i][0], max: panelXLimits[i][1], position: "bottom", axisLine: { show: false, onZero: false } };
    const majorLine = gray ? "#ffffff" : "#c6c6c6";
    const minorLine = gray ? "#e2e2e2" : "#e0e0e0";
    xAxis.push({
      ...common,
      name: col === 2 ? "{n|Δ}{z|Z}{s|ea}{n|[dBZ]}" : "{z|Z}{s|ea} {n|[dBZ]}",
      nameLocation: "middle", nameGap: 160, nameTextStyle: { rich: nameRich, fontFamily: FONT, fontSize: 80 },
      axisTick: { show: true, length: 32, lineStyle: { color: "#000", width: 7 }, customValues: panelMajor[i] },
      axisLabel: { show: true, customValues: panelMajor[i], margin: 62, fontFamily: FONT, fontSize: 70, color: "#000", hideOverlap: false, showMinLabel: true, showMaxLabel: true, formatter: (v: number) => String(v).replace("-", "\u2212") },
      splitLine: { show: true, lineStyle: { color: majorLine, width: 4, type: [12, 8] } },
    });
    xAxis.push({
      ...common,
      axisTick: { show: true, length: 17, lineStyle: { color: "#000", width: 5 }, customValues: panelMinor[i] },
      axisLabel: { show: false },
      splitLine: { show: true, lineStyle: { color: minorLine, width: 4, type: [4, 8] } },
    });
    yAxis.push({
      type: "value", gridIndex: i, min: -0.082, max: 5.2, axisLine: { show: false, onZero: false },
      name: col === 0 ? "Height above first gate [km]" : "",
      nameLocation: "middle", nameGap: 125,
      nameTextStyle: { fontFamily: FONT, fontSize: 80, color: "#000" },
      axisTick: { show: true, length: 30, lineStyle: { color: "#000", width: 6 }, customValues: heightTicks },
      axisLabel: { show: col === 0, customValues: heightTicks, margin: 65, fontFamily: FONT, fontSize: 70, color: "#000" },
      splitLine: { show: true, lineStyle: { color: majorLine, width: 4, type: [12, 8] } },
    });
    const marks: { pts?: number[][]; color: string; rect?: Patch }[] = [];
    p.bodies.forEach((b) => marks.push(...polygonsOf(b)));
    p.patches.forEach((r) => marks.push({ rect: r, color: colorOf(r[4]) }));
    if (marks.length) {
      series.push({
        type: "custom", xAxisIndex: 2 * i, yAxisIndex: i, silent: true, clip: true,
        data: marks.map((_, k) => [k, 0]),
        renderItem: (_: any, api: any) => {
          const m = marks[api.value(0)];
          const pts = m.rect
            ? [[m.rect[2], m.rect[0]], [m.rect[3], m.rect[0]], [m.rect[3], m.rect[1]], [m.rect[2], m.rect[1]]]
            : m.pts!;
          return { type: "polygon", shape: { points: pts.map((q) => api.coord(q)) }, style: { fill: m.color } };
        },
      });
    }
    series.push({
      type: "scatter", name: "Min.", xAxisIndex: 2 * i, yAxisIndex: i, data: p.min, symbolSize: 14, clip: true, silent: true,
      itemStyle: { color: "#0000ff", opacity: 1 },
    });
    series.push({
      type: "scatter", name: "q=0.01", xAxisIndex: 2 * i, yAxisIndex: i, data: p.q, symbolSize: 14, clip: true, silent: true,
      itemStyle: { color: "#008000", borderColor: "#006400", borderWidth: 1, opacity: 1 },
    });
    const [bx, bw] = boxes[i];
    const by = row === 0 ? 251 : 1957, bh = 134;
    graphic.push({ type: "rect", z: 50, shape: { x: bx + 4, y: by, width: bw - 8, height: bh }, style: { fill: "rgba(255,255,255,0.8)", stroke: "#333333", lineWidth: 8 } });
    graphic.push({ type: "text", z: 51, x: bx + bw / 2, y: by + bh / 2 - 3, style: { text: panelLetters[i], font: `72px "${FONT}"`, fill: "#000", align: "center", verticalAlign: "middle" } });
  });
  // colour bar
  const cg = 6;
  grid.push({ left: 609, top: 3407, width: 1389, height: 74.5, show: true, borderColor: "#000", borderWidth: 8 });
  const cbarCommon = { type: "value", gridIndex: cg, min: 0, max: 4, position: "bottom", axisLine: { show: false, onZero: false }, splitLine: { show: false } };
  const minorLogs: number[] = [];
  decades.slice(0, 4).forEach((d) => [2, 3, 4, 5, 6, 7, 8, 9].forEach((m) => minorLogs.push(d + Math.log10(m))));
  xAxis.push({
    ...cbarCommon, name: "Counts", nameLocation: "middle", nameGap: 141,
    nameTextStyle: { fontFamily: FONT, fontSize: 76, color: "#000" },
    axisTick: { show: true, length: 32, lineStyle: { color: "#000", width: 7 }, customValues: decades },
    axisLabel: {
      show: true, customValues: decades, margin: 52, showMinLabel: true, showMaxLabel: true, hideOverlap: false,
      formatter: (v: number) => `{b|10}{e|${v}}`,
      rich: {
        b: { fontFamily: FONT, fontSize: 74, color: "#000" },
        e: { fontFamily: FONT, fontSize: 54, color: "#000", padding: [0, 0, 26, 0] },
      },
    },
  });
  xAxis.push({
    ...cbarCommon,
    axisTick: { show: true, length: 19, lineStyle: { color: "#000", width: 5 }, customValues: minorLogs },
    axisLabel: { show: false },
  });
  yAxis.push({ type: "value", gridIndex: cg, min: 0, max: 1, show: false });
  series.push({
    type: "custom", xAxisIndex: 2 * cg, yAxisIndex: cg, silent: true, clip: true, data: [[0, 0]],
    renderItem: (_: any, api: any) => {
      const a = api.coord([0, 1]), b = api.coord([4, 0]);
      return {
        type: "rect", shape: { x: a[0], y: a[1], width: b[0] - a[0], height: b[1] - a[1] },
        style: { fill: new echarts.graphic.LinearGradient(0, 0, 1, 0, colorStops.map(([v, c]) => ({ offset: v / 4, color: c }))) },
      };
    },
  });
  // titles
  const titleAt = (text: string, x: number, y: number, size: number) =>
    graphic.push({ type: "text", z: 20, x, y, style: { text, font: `${size}px "${FONT}"`, fill: "#000", align: "center", verticalAlign: "middle" } });
  rowTitles.forEach((t, r) => {
    titleAt(t, 1141, r === 0 ? 54 : 1750, 92);
    colTitles.forEach((c, k) => titleAt(c, [557, 1140, 1728][k], r === 0 ? 159 : 1866, k === 2 ? 89 : 92));
  });
  return {
    animation: false,
    backgroundColor: "#ffffff",
    textStyle: { fontFamily: FONT },
    grid, xAxis, yAxis, series, graphic,
    legend: {
      data: ["Min.", "q=0.01"], orient: "vertical", left: 22, top: 3395, icon: "circle",
      itemWidth: 14, itemHeight: 14, itemGap: 19, selectedMode: false,
      backgroundColor: "#ffffff", borderColor: "#dddddd", borderWidth: 7, borderRadius: 14,
      padding: [18, 36, 18, 92],
      textStyle: { fontFamily: FONT, fontSize: 80, color: "#000", lineHeight: 80, padding: [0, 0, 0, 112] },
    },
  };
}

export default function App() {
  const ref = useRef<HTMLDivElement>(null);
  useEffect(() => {
    document.body.style.margin = "0";
    const chart = echarts.init(ref.current!, undefined, { renderer: "svg", width: W, height: H });
    chart.setOption(buildOption() as any);
    return () => chart.dispose();
  }, []);
  return <div ref={ref} style={{ width: W, height: H }} />;
}
